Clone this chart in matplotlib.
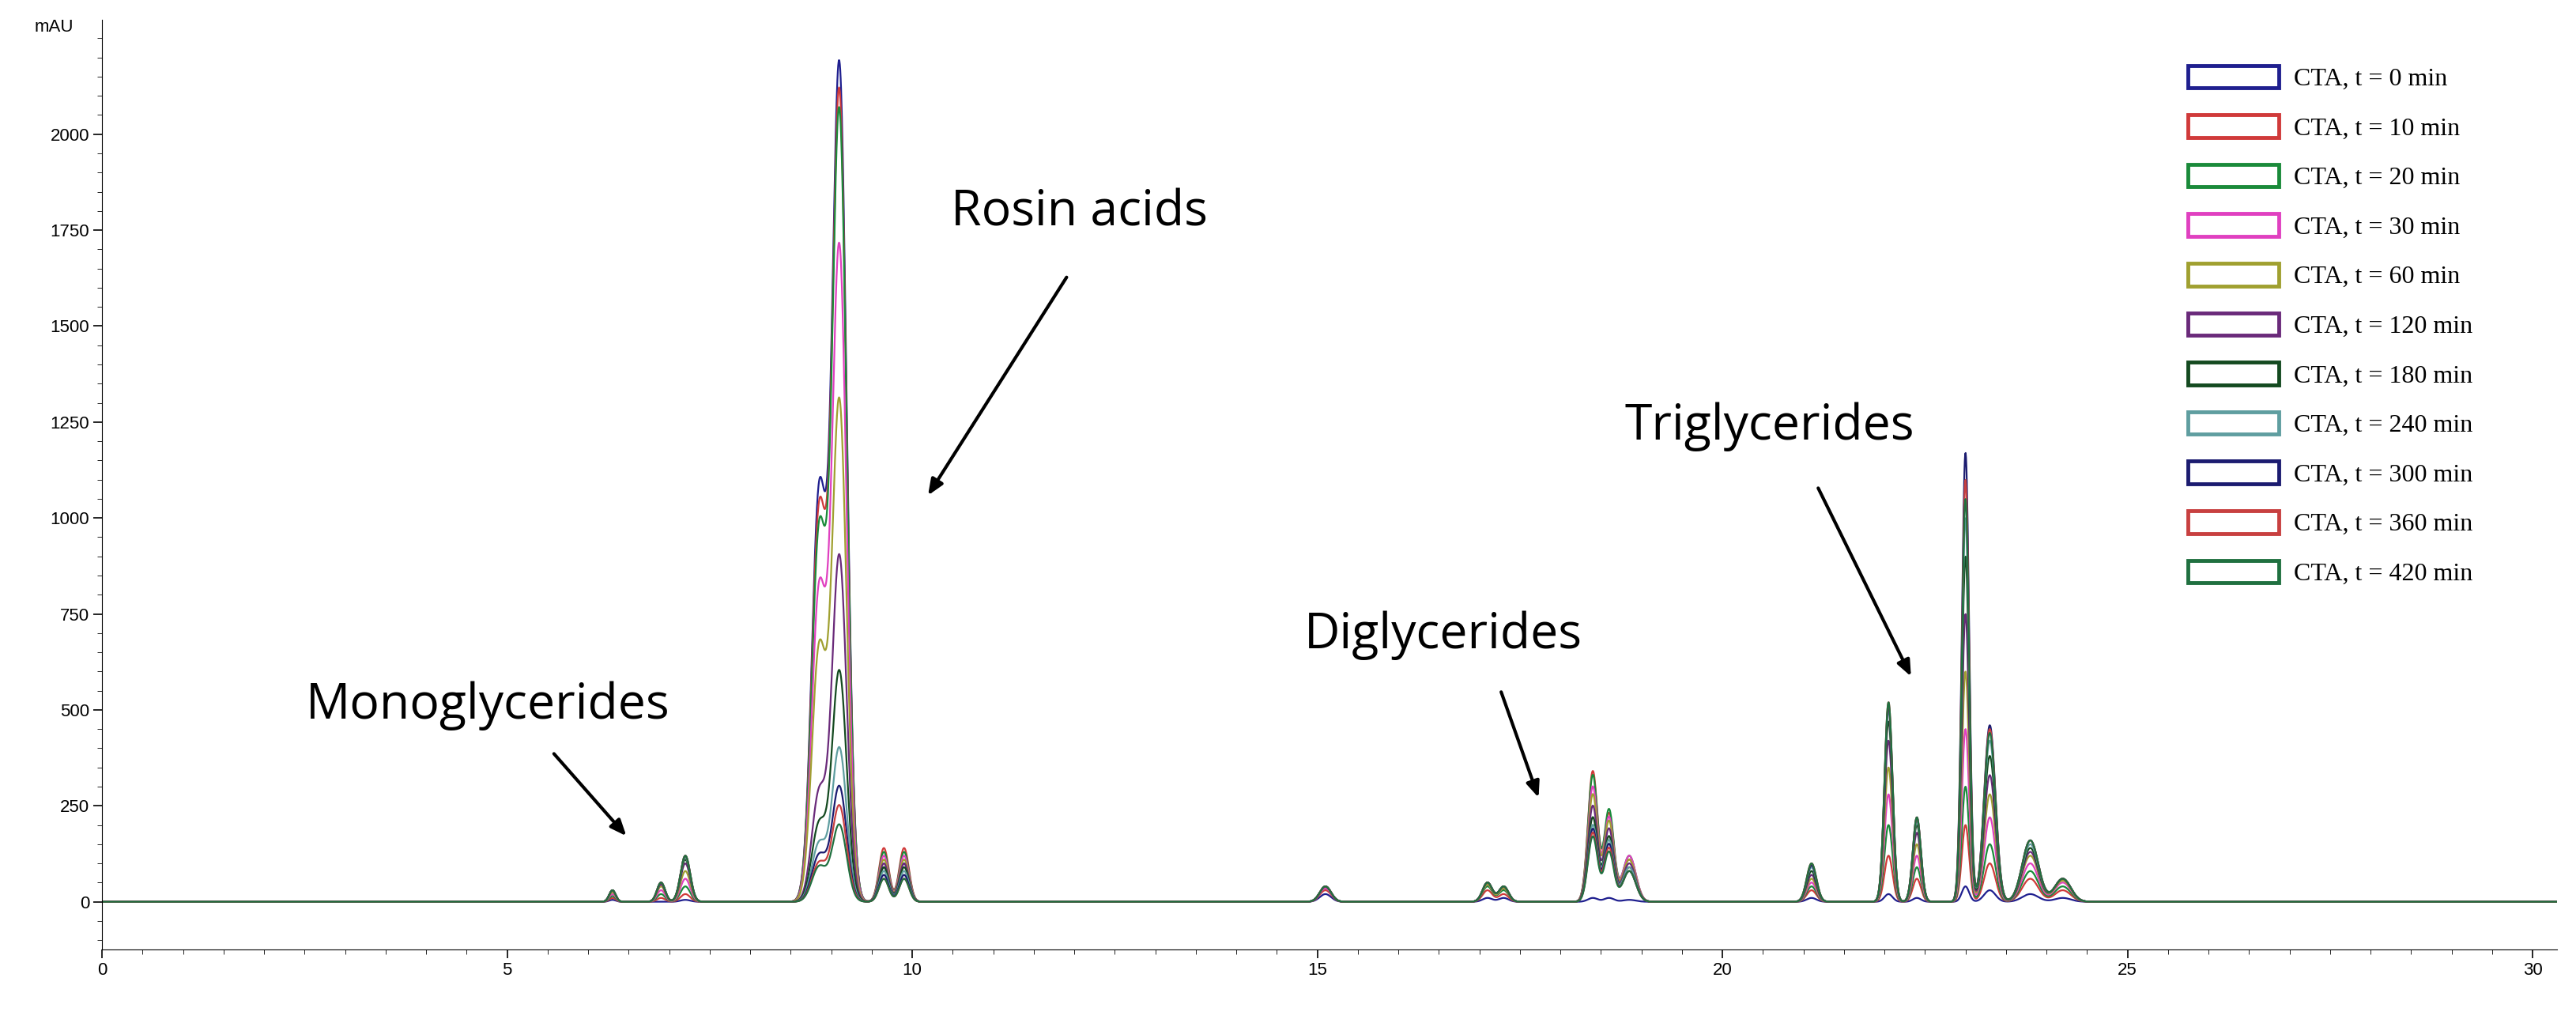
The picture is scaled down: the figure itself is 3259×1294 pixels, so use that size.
import numpy as np
import matplotlib
matplotlib.use("Agg")
import matplotlib.pyplot as plt
from matplotlib.patches import Patch
from matplotlib.ticker import MultipleLocator, FixedLocator

# legend labels and trace colours
labels = ["CTA, t = 0 min", "CTA, t = 10 min", "CTA, t = 20 min", "CTA, t = 30 min",
          "CTA, t = 60 min", "CTA, t = 120 min", "CTA, t = 180 min", "CTA, t = 240 min",
          "CTA, t = 300 min", "CTA, t = 360 min", "CTA, t = 420 min"]
colors = ["#1f1f8f", "#d03a3a", "#1a8a3a", "#e040c0", "#a0a030", "#6a2a7a",
          "#144a20", "#5f9ea0", "#1c1c70", "#c84040", "#207040"]

# peak table: retention time (min), width (sigma, min)
peak_rt = [6.3, 6.9, 7.2, 8.85, 9.1, 9.65, 9.9, 15.1, 17.1, 17.3,
           18.4, 18.6, 18.85, 21.1, 22.05, 22.4, 23.0, 23.3, 23.8, 24.2]
peak_sd = [0.04, 0.05, 0.06, 0.09, 0.09, 0.06, 0.06, 0.07, 0.06, 0.06,
           0.06, 0.06, 0.08, 0.06, 0.05, 0.05, 0.045, 0.07, 0.1, 0.1]

# peak heights (mAU), one row per trace (t = 0 ... 420 min)
heights = [
    [5, 0, 5, 1050, 2170, 90, 100, 20, 10, 10, 10, 10, 5, 10, 20, 10, 40, 30, 20, 10],
    [10, 10, 20, 1000, 2100, 140, 140, 30, 30, 20, 340, 230, 110, 30, 120, 60, 200, 100, 60, 30],
    [15, 20, 40, 950, 2050, 130, 130, 35, 40, 30, 330, 240, 120, 40, 200, 90, 300, 150, 80, 40],
    [20, 30, 60, 800, 1700, 120, 120, 35, 45, 35, 300, 220, 120, 50, 280, 120, 450, 220, 100, 50],
    [25, 40, 80, 650, 1300, 110, 110, 40, 45, 35, 280, 210, 110, 60, 350, 150, 600, 280, 120, 55],
    [30, 45, 100, 280, 900, 100, 100, 40, 50, 40, 250, 190, 100, 70, 420, 180, 750, 330, 130, 60],
    [30, 50, 110, 200, 600, 90, 90, 40, 50, 40, 220, 170, 90, 80, 470, 200, 900, 380, 140, 60],
    [30, 50, 115, 150, 400, 80, 80, 40, 50, 40, 200, 160, 90, 90, 500, 210, 1000, 420, 150, 60],
    [30, 50, 120, 120, 300, 70, 70, 40, 50, 40, 190, 150, 80, 95, 510, 220, 1170, 460, 160, 60],
    [30, 50, 120, 100, 250, 60, 60, 40, 50, 40, 180, 140, 80, 100, 520, 220, 1100, 450, 160, 60],
    [30, 50, 120, 90, 200, 60, 60, 40, 50, 40, 170, 130, 80, 100, 520, 220, 1050, 440, 160, 60],
]

t = np.linspace(0, 30.3, 6000)

fig = plt.figure(figsize=(32.59, 12.94), dpi=100)
ax = fig.add_axes([0.0396, 0.072, 0.953, 0.909])

for row, c, lab in zip(heights, colors, labels):
    y = np.zeros_like(t)
    for rt, sd, h in zip(peak_rt, peak_sd, row):
        y += h * np.exp(-0.5 * ((t - rt) / sd) ** 2)
    ax.plot(t, y, color=c, lw=1.6, label=lab)

ax.set_xlim(0, 30.3)
ax.set_ylim(-124, 2299)
ax.spines["top"].set_visible(False)
ax.spines["right"].set_visible(False)
ax.yaxis.set_major_locator(FixedLocator(range(0, 2001, 250)))
ax.yaxis.set_minor_locator(MultipleLocator(50))
ax.xaxis.set_major_locator(MultipleLocator(5))
ax.xaxis.set_minor_locator(MultipleLocator(0.5))
ax.tick_params(labelsize=16, length=8, width=1.2)
ax.tick_params(which="minor", length=4)
for lab in ax.get_xticklabels() + ax.get_yticklabels():
    lab.set_family("Liberation Sans")
ax.text(-0.35, 2278, "mAU", ha="right", va="center", fontsize=16, family="Liberation Sans")

afont = dict(fontsize=45, family="Open Sans", ha="center", va="center")
arrow = dict(arrowstyle="-|>,head_width=0.5,head_length=1.2", color="black", lw=3)
notes = [("Rosin acids", (12.06, 1795), (11.92, 1632), (10.18, 1054)),
         ("Monoglycerides", (4.76, 510), (5.56, 390), (6.49, 167)),
         ("Diglycerides", (16.55, 694), (17.26, 552), (17.74, 266)),
         ("Triglycerides", (20.58, 1238), (21.17, 1083), (22.34, 582))]
for txt, pos, tail, head in notes:
    ax.text(pos[0], pos[1], txt, **afont)
    ax.annotate("", xy=head, xytext=tail, arrowprops=arrow)

handles = [Patch(facecolor="white", edgecolor=c, lw=3.5) for c in colors]
ax.legend(handles, labels, loc="upper right", bbox_to_anchor=(0.975, 0.975), frameon=False,
          prop={"family": "Liberation Serif", "size": 23}, handlelength=3.6,
          handleheight=1.0, labelspacing=0.95, handletextpad=0.6)

fig.savefig("out.png", dpi=100)
